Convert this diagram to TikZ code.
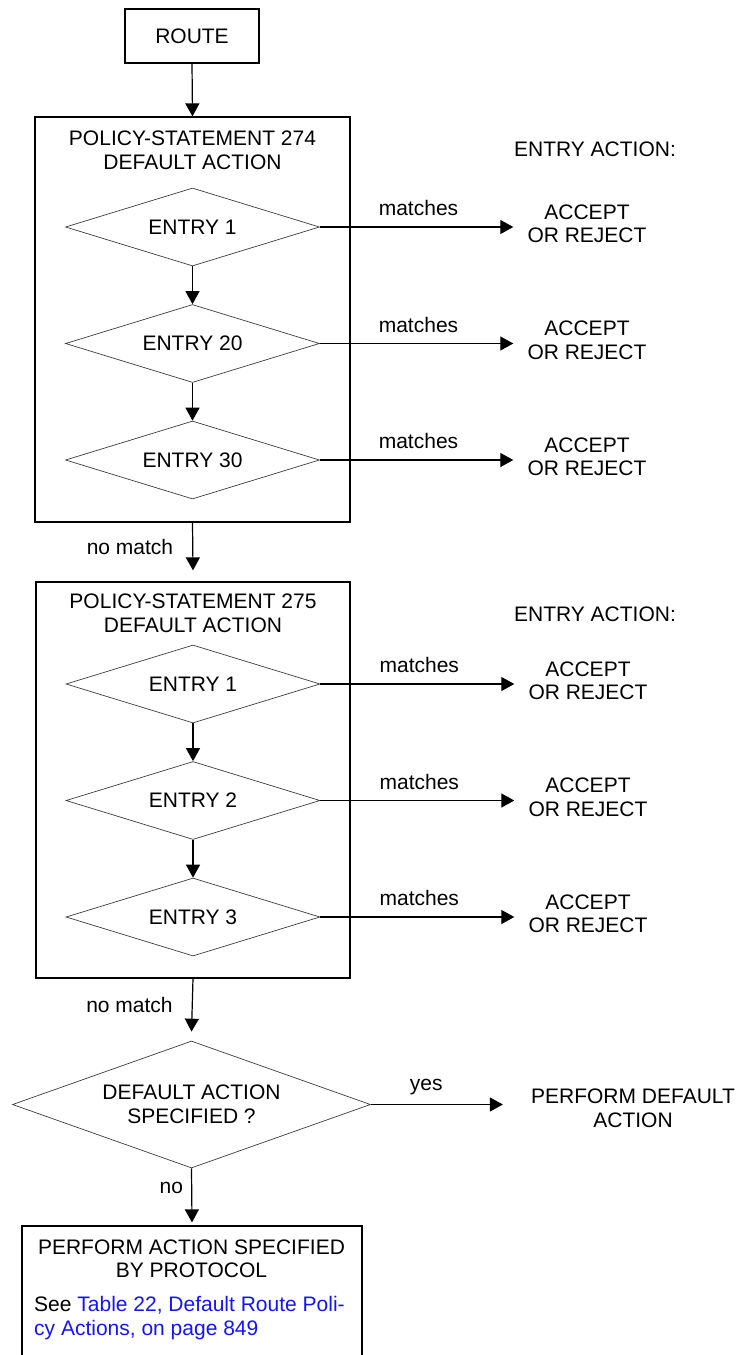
\documentclass[tikz,border=0pt]{standalone}
\usepackage{fontspec}
\setmainfont{Liberation Sans}
\usepackage{tikz}
\usetikzlibrary{shapes.geometric,arrows.meta}
\definecolor{linkblue}{RGB}{20,20,250}
\definecolor{edgegray}{RGB}{60,60,60}

\begin{document}
\begin{tikzpicture}[x=1pt,y=-1pt,
  font=\fontsize{21}{23.5}\selectfont,
  box/.style={draw,line width=1.2pt,inner sep=0pt},
  entry/.style={draw=edgegray,diamond,aspect=3.26,minimum width=254pt,
    minimum height=78pt,inner sep=0pt,line width=0.7pt},
  accept/.style={align=center,inner ysep=0pt,inner xsep=14pt},
  txt/.style={align=center,inner sep=0pt},
  flow/.style={-{Triangle[length=13pt,width=14pt]},line width=1.2pt},
  match/.style={pos=0.51,above=10.5pt,inner sep=0pt}]
\useasboundingbox (0,0) rectangle (740,1355);

\node[box,minimum width=134pt,minimum height=54pt] (route) at (192,36) {ROUTE};

% policy-statement 274
\node[box,minimum width=315pt,minimum height=405pt] (ps274) at (192.5,319.5) {};
\node[txt] (ps274t) at (192.5,150.5) {POLICY-STATEMENT 274\\DEFAULT ACTION};
\node[txt] (act274) at (595,149) {ENTRY ACTION:};
\foreach \n/\y/\lab in {a/227/1, b/343.5/20, c/460/30}{
  \node[entry] (e274\n) at (192.5,\y) {ENTRY \lab};
  \node[accept] (acc274\n) at (587,\y-3) {ACCEPT\\OR REJECT};
  \draw[flow] (e274\n.east) -- (e274\n.east -| acc274\n.west) node[match] {matches};
}
\draw[flow] (route.south) -- (ps274.north);
\draw[flow] (e274a.south) -- (e274b.north);
\draw[flow] (e274b.south) -- (e274c.north);

% policy-statement 275
\node[box,minimum width=314pt,minimum height=396pt] (ps275) at (193,780) {};
\node[txt] (ps275t) at (193,613.5) {POLICY-STATEMENT 275\\DEFAULT ACTION};
\node[txt] (act275) at (595,614) {ENTRY ACTION:};
\foreach \n/\y/\lab in {a/684/1, b/800.5/2, c/917/3}{
  \node[entry] (e275\n) at (193,\y) {ENTRY \lab};
  \node[accept] (acc275\n) at (588,\y-3) {ACCEPT\\OR REJECT};
  \draw[flow] (e275\n.east) -- (e275\n.east -| acc275\n.west) node[match] {matches};
}
\draw[flow] (ps274.south) -- ([yshift=11pt]ps275.north)
  node[midway,left=19pt,inner sep=0pt] {no match};
\draw[flow] (e275a.south) -- (e275b.north);
\draw[flow] (e275b.south) -- (e275c.north);

% default action
\node[draw=edgegray,diamond,aspect=2.82,minimum width=358pt,minimum height=127pt,
  inner sep=0pt,line width=0.7pt,align=center] (dflt) at (191.5,1104.5)
  {DEFAULT ACTION\\SPECIFIED ?};
\node[align=center,inner ysep=0pt,inner xsep=28pt] (pda) at (633,1108.5)
  {PERFORM DEFAULT\\ACTION};
\draw[flow] (ps275.south) -- ([yshift=9pt]dflt.north)
  node[midway,left=19pt,inner sep=0pt] {no match};
\draw[flow] (dflt.east) -- (dflt.east -| pda.west)
  node[pos=0.42,above=9pt,inner sep=0pt] {yes};

\node[box,minimum width=340pt,minimum height=154pt] (proto) at (192,1303) {};
\node[txt] (protot) at (191.5,1259) {PERFORM ACTION SPECIFIED\\BY PROTOCOL};
\node[align=left,inner sep=0pt,anchor=north west] (see) at (34,1296.5)
  {See \textcolor{linkblue}{Table 22, Default Route Poli-}\\
   \textcolor{linkblue}{cy Actions, on page 849}};
\draw[flow] (dflt.south) -- ([yshift=3pt]proto.north)
  node[pos=0.36,left=8pt,inner sep=0pt] {no};
\end{tikzpicture}
\end{document}
